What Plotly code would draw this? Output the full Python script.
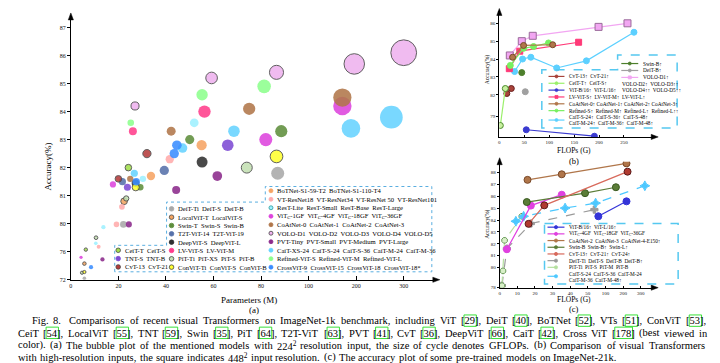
import re
import numpy as np
import plotly.graph_objects as go

W, H = 720, 363
FONT = "Liberation Serif"

# ---------------- (a) bubble plot data (224^2 input) ----------------
a_model = ["DeiT-Ti", "DeiT-S", "DeiT-B",
           "LocalViT-T", "LocalViT-S",
           "Swin-T", "Swin-S", "Swin-B",
           "T2T-ViT-14", "T2T-ViT-19",
           "DeepViT-S", "DeepViT-L",
           "LV-ViT-S", "LV-ViT-M",
           "PiT-Ti", "PiT-XS", "PiT-S", "PiT-B",
           "ConViT-Ti", "ConViT-S", "ConViT-B",
           "CeiT-T", "CeiT-S",
           "TNT-S", "TNT-B",
           "CvT-13", "CvT-21",
           "BoTNet-S1-59-T2", "BoTNet-S1-110-T4",
           "VT-ResNet18", "VT-ResNet34", "VT-ResNet50", "VT-ResNet101",
           "ResT-Lite", "ResT-Small", "ResT-Base", "ResT-Large",
           "ViTc-1GF", "ViTc-4GF", "ViTc-18GF", "ViTc-36GF",
           "CoAtNet-0", "CoAtNet-1", "CoAtNet-2", "CoAtNet-3",
           "VOLO-D1", "VOLO-D2", "VOLO-D3", "VOLO-D4", "VOLO-D5",
           "PVT-Tiny", "PVT-Small", "PVT-Medium", "PVT-Large",
           "CaiT-XS-24", "CaiT-S-24", "CaiT-S-36", "CaiT-M-24", "CaiT-M-36",
           "Refined-ViT-S", "Refined-ViT-M", "Refined-ViT-L",
           "CrossViT-9", "CrossViT-15", "CrossViT-18", "CrossViT-18*"]
a_family = (["DeiT"] * 3 + ["LocalViT"] * 2 + ["Swin"] * 3 + ["T2T-ViT"] * 2 +
            ["DeepViT"] * 2 + ["LV-ViT"] * 2 + ["PiT"] * 4 + ["ConViT"] * 3 +
            ["CeiT"] * 2 + ["TNT"] * 2 + ["CvT"] * 2 + ["BoTNet"] * 2 +
            ["VT-ResNet"] * 4 + ["ResT"] * 4 + ["ViTc"] * 4 + ["CoAtNet"] * 4 +
            ["VOLO"] * 5 + ["PVT"] * 4 + ["CaiT"] * 5 + ["Refined-ViT"] * 3 +
            ["CrossViT"] * 4)
a_params = [5.7, 22.1, 87,
            5.7, 22.4,
            29.2, 50, 88.5,
            21.7, 39.3,
            27.2, 55.2,
            26.1, 56.2,
            4.7, 10.6, 23.3, 74,
            5.7, 27.3, 86.5,
            6.3, 24.2,
            23.8, 66,
            20, 32,
            33.7, 55,
            11.7, 19.2, 21.5, 41.6,
            10.5, 13.7, 30.3, 51.9,
            4.3, 17.7, 82, 171,
            25, 42.2, 75, 171,
            27, 59.2, 86.5, 196, 300,
            13.3, 24.4, 44.3, 61.6,
            26.7, 47, 68.6, 189, 274,
            25.2, 55.2, 81.3,
            8.5, 27.5, 43.5, 44.6]
a_acc = [72.2, 79.9, 81.8,
         74.3, 80.8,
         81.3, 83.0, 83.3,
         81.5, 81.9,
         81.45, 82.2,
         83.3, 84.0,
         73.0, 78.0, 80.9, 82.0,
         73.1, 81.3, 82.4,
         76.3, 82.0,
         81.3, 82.8,
         81.6, 82.5,
         81.7, 82.8,
         76.7, 79.9, 80.6, 82.3,
         77.2, 79.5, 81.6, 83.6,
         75.2, 81.4, 83.0, 84.2,
         81.6, 83.3, 84.1, 84.5,
         84.2, 85.2, 85.4, 85.7, 86.1,
         74.9, 79.9, 81.2, 81.7,
         81.8, 82.7, 83.3, 83.4, 83.8,
         83.6, 84.6, 84.9,
         73.8, 81.5, 82.5, 82.8]
a_gflops = [1.3, 4.6, 17.6,
            1.3, 4.6,
            4.5, 8.7, 15.4,
            5.2, 8.9,
            6.2, 12.5,
            6.6, 16.0,
            0.7, 1.4, 2.9, 12.5,
            1.0, 5.4, 16.8,
            1.2, 4.5,
            5.2, 14.1,
            4.5, 7.1,
            7.3, 10.9,
            1.6, 3.2, 3.4, 7.1,
            1.4, 1.9, 4.3, 7.9,
            1.1, 4.0, 17.7, 35.0,
            4.2, 8.4, 15.7, 34.7,
            6.8, 14.1, 20.6, 43.8, 69.0,
            1.9, 3.8, 6.7, 9.8,
            5.4, 9.4, 13.9, 36.0, 53.7,
            4.5, 13.5, 19.1,
            1.8, 5.8, 9.0, 9.5]
a_xticks = [0, 20, 40, 60, 80, 100, 200, 300]
a_yticks = [72, 76, 80, 81, 82, 83, 84, 85, 86, 87]

# legend texts of (a)
a_leg_left = [("CeiT", "CeiT-T  CeiT-S"), ("TNT", "TNT-S  TNT-B"), ("CvT", "CvT-13  CvT-21")]
a_leg_mid = [("DeiT", "DeiT-Ti  DeiT-S  DeiT-B"), ("LocalViT", "LocalViT-T  LocalViT-S"),
             ("Swin", "Swin-T  Swin-S  Swin-B"), ("T2T-ViT", "T2T-ViT-14  T2T-ViT-19"),
             ("DeepViT", "DeepViT-S  DeepViT-L"), ("LV-ViT", "LV-ViT-S  LV-ViT-M"),
             ("PiT", "PiT-Ti  PiT-XS  PiT-S  PiT-B"), ("ConViT", "ConViT-Ti  ConViT-S  ConViT-B")]
a_leg_right = [("BoTNet", "BoTNet-S1-59-T2  BoTNet-S1-110-T4"),
               ("VT-ResNet", "VT-ResNet18  VT-ResNet34  VT-ResNet 50  VT-ResNet101"),
               ("ResT", "ResT-Lite  ResT-Small  ResT-Base  ResT-Large"),
               ("ViTc", "ViT<sub>C</sub>-1GF  ViT<sub>C</sub>-4GF  ViT<sub>C</sub>-18GF  ViT<sub>C</sub>-36GF"),
               ("CoAtNet", "CoAtNet-0  CoAtNet-1  CoAtNet-2  CoAtNet-3"),
               ("VOLO", "VOLO-D1  VOLO-D2  VOLO-D3  VOLO-D4  VOLO-D5"),
               ("PVT", "PVT-Tiny  PVT-Small  PVT-Medium  PVT-Large"),
               ("CaiT", "CaiT-XS-24  CaiT-S-24  CaiT-S-36  CaiT-M-24  CaiT-M-36"),
               ("Refined-ViT", "Refined-ViT-S  Refined-ViT-M  Refined-ViT-L"),
               ("CrossViT", "CrossViT-9  CrossViT-15  CrossViT-18  CrossViT-18*")]

# ---------------- (b) high-resolution comparison ----------------
b_cvt_flops, b_cvt_acc = [15, 24], [82.07, 82.35]
b_ceit_flops, b_ceit_acc = [2, 12], [77.7, 82.35]
b_vit_flops, b_vit_acc = [54, 190.6], [77.1, 76.2]
b_lvvit_flops, b_lvvit_acc = [20, 41, 159], [83.46, 84.44, 84.94]
b_coat_flops, b_coat_acc = [26.6, 48.6, 107], [84.1, 84.76, 84.8]
b_ref_flops, b_ref_acc = [22, 48.6, 68.6, 98.6], [83.64, 84.6, 84.7, 84.9]
b_cait_flops, b_cait_acc = [30.6, 46.6, 63.2, 115, 174.6, 270], [83.3, 84.0, 84.1, 83.5, 83.9, 85.5]
b_volo_flops, b_volo_acc = [21, 45, 67, 199, 257], [84.2, 85.0, 85.3, 85.8, 86.0]
b_swin_flops, b_swin_acc = [45], [83.24]
b_deit_flops, b_deit_acc = [52], [82.17]
b_xticks = [0, 50, 100, 150, 200, 250]
b_yticks = [76, 79, 82, 83, 84, 85, 86]

# ---------------- (c) ImageNet-21k pre-trained ----------------
c_vit_flops, c_vit_acc = [79.7, 219], [84.32, 85.58]
c_vitc_flops, c_vitc_acc = [4.1, 17.7, 35.2], [81.54, 85.22, 86.14]
c_coat_flops, c_coat_acc = [15.8, 35.2, 219], [87.39, 87.86, 88.78]
c_swin_flops, c_swin_acc = [15.4, 48.4, 159], [85.52, 86.27, 86.77]
c_cvt_flops, c_cvt_acc = [16.4, 25.3, 225], [83.68, 85.24, 88.08]
c_deit_flops, c_deit_acc = [1.3, 4.1, 17.7, 68.5], [78.17, 81.59, 83.71, 84.88]
c_pit_flops, c_pit_acc = [1.3, 1.9, 2.8, 12.6], [78.17, 79.66, 82.29, 84.32]
c_cait_flops, c_cait_acc = [9.2, 13.6, 37.1, 72, 323], [83.9, 84.32, 85.01, 85.43, 86.89]
c_xticks = [0, 10, 20, 30, 40, 50, 100, 200, 300]
c_yticks = [78, 80, 81, 82, 83, 84, 85, 86, 87, 88]

# ---------------- caption ----------------
cap_lines = [
    "Fig. 8.  Comparisons of recent visual Transformers on ImageNet-1k benchmark, including ViT [29], DeiT [40], BoTNet [52], VTs [51], ConViT [53],",
    "CeiT [54], LocalViT [55], TNT [59], Swin [35], PiT [64], T2T-ViT [63], PVT [41], CvT [36], DeepViT [66], CaiT [42], Cross ViT [178] (best viewed in",
    "color). (a) The bubble plot of the mentioned models with 224^2 resolution input, the size of cycle denotes GFLOPs. (b) Comparison of visual Transformers",
    "with high-resolution inputs, the square indicates 448^2 input resolution. (c) The accuracy plot of some pre-trained models on ImageNet-21k.",
]


# ---------------- axis transforms (broken axes of the original) ----------------
def ta_x(v):
    return np.interp(v, [0, 100, 300], [0, 100, 140])


def ta_y(v):
    return np.interp(v, [72, 76, 80, 90], [78, 79, 80, 90])


def tb_y(v):
    return np.interp(v, [70, 76, 82, 90], [77.2, 79.6, 82, 90])


def tc_x(v):
    return np.interp(v, [0, 50, 100, 200, 300, 400], [0, 50, 60, 70, 80, 90])


def tc_y(v):
    return np.interp(v, [78, 80, 90], [78.33, 80, 90])


def PX(x):
    return x / W


def PY(y):
    return 1 - y / H


fam_style = {
    "DeiT": ("#a8a8a8", False), "LocalViT": ("#f4a460", True), "Swin": ("#5e8e3c", False),
    "T2T-ViT": ("#5671aa", False), "DeepViT": ("#303030", False), "LV-ViT": ("#ff3d8b", False),
    "PiT": ("#c3e0b2", True), "ConViT": ("#ffff30", True), "CeiT": ("#a2e04c", True),
    "TNT": ("#7d4bd4", False), "CvT": ("#b43c3c", True), "BoTNet": ("#f6a464", False),
    "VT-ResNet": ("#ffabab", False), "ResT": ("#9ef0ff", False), "ViTc": ("#dd44dd", False),
    "CoAtNet": ("#b0764a", False), "VOLO": ("#efb2ef", True), "PVT": ("#8b2a8b", False),
    "CaiT": ("#66d3ff", False), "Refined-ViT": ("#8dff8d", False), "CrossViT": ("#3a8dff", False),
}

fig = go.Figure()

# ---- (a) bubbles
fams = list(dict.fromkeys(a_family))
for fam in fams:
    idx = [i for i, f in enumerate(a_family) if f == fam]
    col, outl = fam_style[fam]
    g = np.array([a_gflops[i] for i in idx])
    fig.add_trace(go.Scatter(
        x=ta_x([a_params[i] for i in idx]), y=ta_y([a_acc[i] for i in idx]),
        text=[a_model[i] for i in idx], mode="markers", xaxis="x", yaxis="y",
        marker=dict(size=np.maximum(3.1 * np.sqrt(g), 3.2), color=col, opacity=0.88,
                    line=dict(color="#4a4a4a" if outl else col, width=1 if outl else 0)),
        hoverinfo="text"))


def add_line(x, y, xa, ya, color, symbol="circle", msize=5, mcolor=None, mline=None,
             dash="solid", width=1.2):
    fig.add_trace(go.Scatter(
        x=x, y=y, xaxis=xa, yaxis=ya, mode="lines+markers",
        line=dict(color=color, width=width, dash=dash),
        marker=dict(symbol=symbol, size=msize, color=mcolor or color,
                    line=dict(color=mline or color, width=1))))


# ---- (b) lines
bcol = {"cvt": "#a8433a", "ceit": "#9af06a", "vit": "#3a3ad0", "lv": "#ff3a78", "coat": "#b0764a",
        "ref": "#78f060", "cait": "#5cd0ff", "volo": "#f2a6f2", "swin": "#4d7f2c", "deit": "#a0a0a0"}
add_line(b_cait_flops, tb_y(b_cait_acc), "x2", "y2", bcol["cait"], msize=6)
add_line(b_volo_flops, tb_y(b_volo_acc), "x2", "y2", bcol["volo"], symbol="square", msize=7,
         mline="#9a6a9a")
add_line(b_lvvit_flops, tb_y(b_lvvit_acc), "x2", "y2", bcol["lv"], symbol="square", msize=6)
add_line(b_ref_flops, tb_y(b_ref_acc), "x2", "y2", bcol["ref"], msize=6)
add_line(b_coat_flops, tb_y(b_coat_acc), "x2", "y2", bcol["coat"], msize=6, mline="#7a4a2a")
add_line(b_cvt_flops, tb_y(b_cvt_acc), "x2", "y2", bcol["cvt"], msize=6, mline="#6a2020")
add_line(b_ceit_flops, tb_y(b_ceit_acc), "x2", "y2", bcol["ceit"], msize=6, mcolor="#c8f0a0",
         mline="#4a8a2a")
add_line(b_vit_flops, tb_y(b_vit_acc), "x2", "y2", bcol["vit"], msize=6)
add_line(b_swin_flops, tb_y(b_swin_acc), "x2", "y2", bcol["swin"], msize=6)
add_line(b_deit_flops, tb_y(b_deit_acc), "x2", "y2", bcol["deit"], msize=6)

# ---- (c) lines
ccol = {"vit": "#3434d8", "vitc": "#e040e0", "coat": "#b0764a", "swin": "#5b7d38", "cvt": "#d86a5c",
        "deit": "#9a9a9a", "pit": "#b5e0a0", "cait": "#4cc8ff"}
add_line(tc_x(c_deit_flops), tc_y(c_deit_acc), "x3", "y3", ccol["deit"], symbol="cross", msize=6,
         dash="dash")
add_line(tc_x(c_pit_flops), tc_y(c_pit_acc), "x3", "y3", ccol["pit"], symbol="octagon", msize=6,
         mcolor="#d8f0c8", mline="#6a9a5a", dash="dash")
add_line(tc_x(c_cait_flops), tc_y(c_cait_acc), "x3", "y3", ccol["cait"], symbol="star-diamond",
         msize=7, dash="dash")
add_line(tc_x(c_vit_flops), tc_y(c_vit_acc), "x3", "y3", ccol["vit"], msize=7)
add_line(tc_x(c_vitc_flops), tc_y(c_vitc_acc), "x3", "y3", ccol["vitc"], msize=7)
add_line(tc_x(c_coat_flops), tc_y(c_coat_acc), "x3", "y3", ccol["coat"], msize=7, mline="#7a4a2a")
add_line(tc_x(c_swin_flops), tc_y(c_swin_acc), "x3", "y3", ccol["swin"], msize=7, mline="#3a5a20")
add_line(tc_x(c_cvt_flops), tc_y(c_cvt_acc), "x3", "y3", ccol["cvt"], msize=7, mcolor="#b03a30",
         mline="#5a1a1a")

tickfont = dict(family=FONT, size=6, color="#111")
small = dict(family=FONT, size=5, color="#111")
axbase = dict(showgrid=False, zeroline=False, showline=True, linecolor="black", linewidth=1,
              ticks="outside", ticklen=3, tickcolor="black", tickfont=tickfont, fixedrange=True)

fig.update_layout(
    width=W, height=H, margin=dict(l=0, r=0, t=0, b=0),
    paper_bgcolor="white", plot_bgcolor="rgba(0,0,0,0)", showlegend=False,
    xaxis=dict(axbase, domain=[PX(61), PX(427)], range=[0, 153.5], anchor="y",
               tickvals=ta_x(a_xticks), ticktext=[str(t) for t in a_xticks], ticks="inside", ticklen=4),
    yaxis=dict(axbase, domain=[PY(274), PY(10)], range=[78, 87.342], anchor="x",
               tickvals=ta_y(a_yticks), ticktext=[str(t) for t in a_yticks]),
    xaxis2=dict(axbase, domain=[PX(490.7), PX(646.7)], range=[0, 312], anchor="y2",
                tickvals=b_xticks, ticktext=[str(t) for t in b_xticks], ticks="inside", ticklen=2,
                tickfont=small),
    yaxis2=dict(axbase, domain=[PY(130), PY(3)], range=[79.64, 86.69], anchor="x2",
                tickvals=tb_y(b_yticks), ticktext=[str(t) for t in b_yticks], ticklen=2, tickfont=small),
    xaxis3=dict(axbase, domain=[PX(491), PX(646.7)], range=[0, 88], anchor="y3",
                tickvals=tc_x(c_xticks), ticktext=[str(t) for t in c_xticks], ticks="inside", ticklen=2,
                tickfont=small),
    yaxis3=dict(axbase, domain=[PY(282), PY(155)], range=[78.30, 88.92], anchor="x3",
                tickvals=tc_y(c_yticks), ticktext=[str(t) for t in c_yticks], ticklen=2, tickfont=small),
)

ann = []
shapes = []


def text(x, y, s, size=7, xanchor="left", color="black", angle=0, pad=1):
    ann.append(dict(x=PX(x), y=PY(y), xref="paper", yref="paper", text=s, showarrow=False,
                    xanchor=xanchor, yanchor="middle", textangle=angle, borderpad=pad,
                    borderwidth=0 if pad == 0 else 1,
                    font=dict(family=FONT, size=size, color=color)))


def dot(cx, cy, r, fill, outline=None, sq=False):
    shapes.append(dict(type="rect" if sq else "circle", xref="paper", yref="paper",
                       x0=PX(cx - r), x1=PX(cx + r), y0=PY(cy + r), y1=PY(cy - r),
                       fillcolor=fill, line=dict(color=outline or fill, width=0.8)))


def seg(x0, y0, x1, y1, color, width=1, dash="solid"):
    shapes.append(dict(type="line", xref="paper", yref="paper", x0=PX(x0), x1=PX(x1),
                       y0=PY(y0), y1=PY(y1), line=dict(color=color, width=width, dash=dash)))


def rect(x0, y0, x1, y1, color, width=1):
    shapes.append(dict(type="rect", xref="paper", yref="paper", x0=PX(x0), x1=PX(x1),
                       y0=PY(y1), y1=PY(y0), line=dict(color=color, width=width)))


def path(pts, color, dash="solid", width=1, fill=None, close=True):
    d = "M " + " L ".join(f"{PX(x)},{PY(y)}" for x, y in pts) + (" Z" if close else "")
    shapes.append(dict(type="path", xref="paper", yref="paper", path=d, fillcolor=fill,
                       line=dict(color=color, width=width, dash=dash)))


def arrow_up(x, tip):
    path([(x, tip), (x - 2.6, tip + 7), (x + 2.6, tip + 7)], "black", width=0.5, fill="black")


def arrow_right(tip, y):
    path([(tip, y), (tip - 7, y - 2.6), (tip - 7, y + 2.6)], "black", width=0.5, fill="black")


# arrows on axes
arrow_up(61, 5)
arrow_right(431, 274)
arrow_up(490.7, 0.5)
arrow_right(650, 130)
arrow_up(491, 151)
arrow_right(650, 282)

# axis titles
text(240, 294, "Parameters (M)", size=9, xanchor="center")
text(245, 305, "(a)", size=9, xanchor="center")
text(38, 160, "Accuracy(%)", size=9, xanchor="center", angle=-90)
text(566, 144, "FLOPs (G)", size=7.5, xanchor="center")
text(566, 154, "(b)", size=8.5, xanchor="center")
text(566, 294, "FLOPs (G)", size=7.5, xanchor="center")
text(566, 304, "(c)", size=8.5, xanchor="center")
text(479, 62, "Accuracy(%)", size=5.5, xanchor="center", angle=-90)
text(479, 218, "Accuracy(%)", size=5.5, xanchor="center", angle=-90)

# legend of (a)
path([(105, 266), (105, 239.3), (157, 239.3), (157, 195.7), (256, 195.7), (256, 180),
      (423, 180), (423, 266)], "#5aaee0", "dot", 1)
for i, (fam, s) in enumerate(a_leg_mid):
    y = 202.5 + 8.4 * i
    col, outl = fam_style[fam]
    dot(162, y, 2.3, col, "#444" if outl else None)
    text(166.5, y, s, size=6.6)
for i, (fam, s) in enumerate(a_leg_left):
    y = 244.3 + 8.4 * i
    col, outl = fam_style[fam]
    dot(108.5, y, 2.3, col, "#444" if outl else None)
    text(113, y, s, size=6.6)
for i, (fam, s) in enumerate(a_leg_right):
    y = 184.3 + 8.56 * i
    col, outl = fam_style[fam]
    dot(261.7, y, 2.0, col, "#2a9a9a" if fam == "ResT" else ("#444" if outl else None))
    text(266, y, s, size=6.6)

# legend of (b)
path([(533.3, 121), (533.3, 62.3), (609.3, 62.3), (609.3, 47.3), (669, 47.3), (669, 121)],
     "#55c8f0", "dash", 1.5)
b_leg = [(bcol["cvt"], "CvT-13↑  CvT-21↑", False), (bcol["ceit"], "CeiT-T↑  CeiT-S↑", False),
         (bcol["vit"], "ViT-B/16↑  ViT-L/16↑", False), (bcol["lv"], "LV-ViT-S↑  LV-ViT-M↑  LV-ViT-L↑", True),
         (bcol["coat"], "CoAtNet-0↑ CoAtNet-1↑ CoAtNet-2↑ CoAtNet-3↑", False),
         (bcol["ref"], "Refined-S↑  Refined-M↑  Refined-L↑  Refined-L↑↑", False)]
for i, (c, s, sq) in enumerate(b_leg):
    y = 69 + 6.9 * i
    seg(540, y, 556, y, c, 1.2)
    dot(548, y, 1.5, c, sq=sq)
    text(558.5, y, s, size=5.3)
seg(540, 113, 556, 113, bcol["cait"], 1.2)
dot(548, 113, 1.5, bcol["cait"])
text(558.5, 110, "CaiT-S-24↑  CaiT-S-36↑  CaiT-S-48↑", size=5.3)
text(558.5, 116.2, "CaiT-M-24↑  CaiT-M-36↑  CaiT-M-48↑", size=5.3)
for i, (c, s) in enumerate([(bcol["swin"], "Swin-B↑"), (bcol["deit"], "DeiT-B↑"), (bcol["volo"], "VOLO-D1↑")]):
    y = 56 + 7 * i
    seg(613, y, 630, y, c, 1.2)
    dot(621.5, y, 1.5, c, sq=(i == 2))
    text(633, y, s, size=5.3)
text(612, 76.5, "VOLO-D2↑  VOLO-D3↑↑", size=5.3)
text(612, 82.5, "VOLO-D4↑↑  VOLO-D5↑↑", size=5.3)

# legend of (c)
path([(536, 217.3), (670, 217.3), (670, 278.3), (536, 278.3)], "#55c8f0", "dash", 1.5)
c_leg = [(ccol["vit"], "ViT-B/16↑  ViT-L/16↑", "solid"),
         (ccol["vitc"], "ViT<sub>C</sub>-4GF  ViT<sub>C</sub>-18GF  ViT<sub>C</sub>-36GF", "solid"),
         (ccol["coat"], "CoAtNet-2  CoAtNet-3  CoAtNet-4-E150↑", "solid"),
         (ccol["swin"], "Swin-B  Swin-B↑  Swin-L↑", "solid"),
         (ccol["cvt"], "CvT-13↑  CvT-21↑  CvT-24↑", "solid"),
         (ccol["deit"], "DeiT-Ti  DeiT-S  DeiT-B  DeiT-B↑", "dash"),
         (ccol["pit"], "PiT-Ti  PiT-S  PiT-M  PiT-B", "dash")]
for i, (c, s, d) in enumerate(c_leg):
    y = 221 + 6.75 * i
    seg(539, y, 556, y, c, 1.2, d)
    dot(547.5, y, 1.6, c)
    text(558.5, y, s, size=5.3)
seg(539, 270.5, 556, 270.5, ccol["cait"], 1.2, "dash")
dot(547.5, 270.5, 1.6, ccol["cait"])
text(558.5, 268.3, "CaiT-S-24  CaiT-S-36  CaiT-M-24", size=5.3)
text(558.5, 274.3, "CaiT-M-36  CaiT-M-48↑", size=5.3)

# ---------------- caption: justified lines, word by word (Times metrics) ----------------
TNR = dict(zip("abcdefghijklmnopqrstuvwxyz",
               [444, 500, 444, 500, 444, 333, 500, 500, 278, 278, 500, 278, 778, 500, 500, 500, 500,
                333, 389, 278, 500, 500, 722, 500, 500, 444]))
TNR.update(zip("ABCDEFGHIJKLMNOPQRSTUVWXYZ",
               [722, 667, 667, 722, 611, 556, 722, 722, 333, 389, 722, 611, 889, 722, 722, 556, 722,
                667, 556, 611, 722, 722, 944, 722, 722, 611]))
TNR.update({" ": 250, "(": 333, ")": 333, "[": 333, "]": 333, ",": 250, ".": 250, "-": 333,
            ":": 278, "/": 278, "\x01": 350})
for d in "0123456789":
    TNR[d] = 500


def tw(s, size):
    return 1.03 * sum(TNR.get(ch, 500) for ch in s.replace("^2", "\x01")) * size / 1000


CAP_SIZE = 10.5
cap_start = [22, 8, 8, 8]
cap_y = [315.5, 327.8, 340.1, 352.3]
cap_just = [True, True, True, False]
RIGHT = 699
for line, x0, y, just in zip(cap_lines, cap_start, cap_y, cap_just):
    toks = line.split(" ")
    ws = [tw(t, CAP_SIZE) for t in toks]
    sp = tw(" ", CAP_SIZE)
    nat = sum(ws) + sp * (len(toks) - 1)
    gap = sp + max((RIGHT - x0 - nat) / (len(toks) - 1), -0.8) if just else sp
    x = x0
    for t, w in zip(toks, ws):
        if t:
            text(x, y, t.replace("^2", "<sup>2</sup>"), size=CAP_SIZE, pad=0)
            m = re.search(r"\[(\d+)\]", t)
            if m:
                bx0 = x + tw(t[:m.start(1)], CAP_SIZE)
                bx1 = x + tw(t[:m.end(1)], CAP_SIZE)
                rect(bx0 - 0.8, y - 6, bx1 + 0.8, y + 5.5, "#22dd22", 0.9)
        x += w + gap

fig.update_layout(annotations=ann, shapes=shapes)
fig.write_html("out.html")
